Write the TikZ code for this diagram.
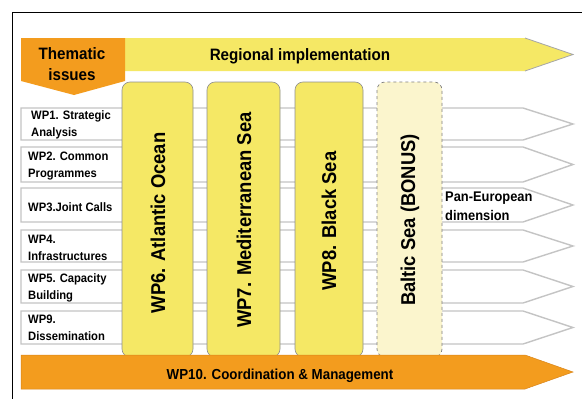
\documentclass[tikz,border=0pt]{standalone}
\usepackage{fontspec}
\setmainfont{Liberation Sans}
\newfontfamily\cf[FakeStretch=0.92]{Liberation Sans}
\definecolor{yel}{HTML}{F5E865}
\definecolor{paleyel}{HTML}{FBF5CD}
\definecolor{org}{HTML}{F39C1E}
\definecolor{orgdk}{HTML}{D9851A}
\definecolor{rowgray}{HTML}{C4C4C4}
\definecolor{colgray}{HTML}{8E8E8E}
\begin{document}
\begin{tikzpicture}[x=1pt,y=-1pt,
  rowarrow/.style={draw=rowgray,line width=1.4pt,fill=white,line join=miter},
  colbox/.style={draw=colgray,line width=0.6pt,fill=yel,rounded corners=8pt},
  baltic/.style={draw=colgray!90!black,line width=0.7pt,dashed,fill=paleyel,rounded corners=8pt},
  rowtxt/.style={anchor=west,align=left,font=\cf\bfseries\fontsize{12.2}{17}\selectfont,inner sep=0pt},
  coltxt/.style={rotate=90,font=\cf\bfseries\fontsize{20}{22}\selectfont,inner sep=0pt},
  hdr/.style={font=\cf\bfseries\fontsize{16.5}{21.5}\selectfont,inner sep=0pt,align=center}]
\useasboundingbox (0,0) rectangle (582,399);
\fill[white] (0,0) rectangle (582,399);
% frame
\draw[black,line width=1pt] (12,399) -- (12,12.5) -- (582,12.5);
% header arrow
\fill[yel] (125,38) -- (525,38) -- (573,54.5) -- (525,71) -- (125,71) -- cycle;
\draw[gray!70,line width=0.8pt] (525,38) -- (573,54.5) -- (525,71);
\node[hdr] (reg) at (300,56) {Regional implementation};
% thematic issues
\fill[org] (21,38) -- (125,38) -- (125,81) -- (74,95) -- (21,81) -- cycle;
\node[hdr] (them) at (72,64) {Thematic\\issues};
% rows
\foreach \t/\b in {108/140,147/182,188/222,230/262,270/303,311/344}{
  \draw[rowarrow] (21,\t) -- (523,\t) -- (573,{(\t+\b)/2}) -- (523,\b) -- (21,\b) -- cycle;
}
\node[rowtxt] (wp1) at (31,124.5) {WP1. Strategic\\Analysis};
\node[rowtxt] (wp2) at (28,166) {WP2. Common\\Programmes};
\node[rowtxt] (wp3) at (28,207) {WP3.Joint Calls};
\node[rowtxt] (wp4) at (28,248) {WP4.\\Infrastructures};
\node[rowtxt] (wp5) at (28,288) {WP5. Capacity\\Building};
\node[rowtxt] (wp9) at (28,328) {WP9.\\Dissemination};
\node[anchor=west,align=left,inner sep=0pt,font=\cf\bfseries\fontsize{14}{19}\selectfont] (pan) at (445,206) {Pan-European\\dimension};
% columns
\draw[colbox] (122,82) rectangle (193,357);
\draw[colbox] (207,82) rectangle (280,357);
\draw[colbox] (295,82) rectangle (363,357);
\draw[baltic] (377,82) rectangle (442,357);
\node[coltxt] (wp6) at (158,223) {WP6. Atlantic Ocean};
\node[coltxt] (wp7) at (244,220) {WP7. Mediterranean Sea};
\node[coltxt] (wp8) at (329,221) {WP8. Black Sea};
\node[coltxt] (bal) at (410,220) {Baltic Sea (BONUS)};
% bottom arrow
\draw[fill=org,draw=orgdk,line width=0.5pt] (21,355) -- (525,355) -- (573,372) -- (525,389) -- (21,389) -- cycle;
\node[inner sep=0pt,font=\cf\bfseries\fontsize{14.5}{17}\selectfont] (wp10) at (280,376) {WP10. Coordination \& Management};
\end{tikzpicture}
\end{document}
